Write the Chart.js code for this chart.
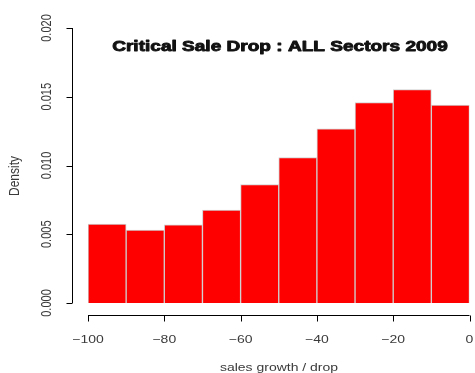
<!DOCTYPE html>
<html>
<head>
<meta charset="utf-8">
<script src="https://cdn.jsdelivr.net/npm/chart.js@4/dist/chart.umd.min.js"></script>
<style>
  html, body { margin: 0; padding: 0; background: #fff; }
  #wrap { width: 475px; height: 373px; position: relative; }
</style>
</head>
<body>
<div id="wrap"><canvas id="c" width="475" height="373"></canvas></div>
<script>
// Histogram of sales growth / drop, 10-point bins
const binEdges = [-100, -90, -80, -70, -60, -50, -40, -30, -20, -10, 0];
const densities = [0.00574, 0.00530, 0.00569, 0.00676, 0.00862, 0.01058, 0.01267, 0.01458, 0.01552, 0.01439];
const xTicks = [-100, -80, -60, -40, -20, 0];
const yTicks = [0, 0.005, 0.010, 0.015, 0.020];
const titleText = 'Critical Sale Drop : ALL Sectors 2009';
const xTitle = 'sales growth / drop';
const yTitle = 'Density';

const points = densities.map((d, i) => ({ x: (binEdges[i] + binEdges[i + 1]) / 2, y: d }));

const FONT = '"Liberation Sans", Arial, sans-serif';
const STRETCH = 1.27; // text is drawn wide and low

// horizontal text, widened
function wideText(ctx, txt, x, y, heavy) {
  ctx.save();
  ctx.translate(x, y);
  ctx.scale(STRETCH, 1);
  if (heavy) {
    ctx.lineWidth = heavy;
    ctx.lineJoin = 'round';
    ctx.strokeStyle = ctx.fillStyle;
    ctx.strokeText(txt, 0, 0);
  }
  ctx.fillText(txt, 0, 0);
  ctx.restore();
}
// vertical text reading bottom to top, thickened across its baseline
function upText(ctx, txt, x, y) {
  ctx.save();
  ctx.translate(x, y);
  ctx.rotate(-Math.PI / 2);
  ctx.scale(1, STRETCH);
  ctx.fillText(txt, 0, 0);
  ctx.restore();
}

// R-style detached axes, tick labels and titles
const rAxes = {
  id: 'rAxes',
  afterDraw(chart) {
    const ctx = chart.ctx;
    const xs = chart.scales.x, ys = chart.scales.y;
    ctx.save();
    ctx.strokeStyle = '#000';
    ctx.lineWidth = 1;

    // y axis
    const axX = 72.5;
    ctx.beginPath();
    ctx.moveTo(axX, ys.getPixelForValue(yTicks[0]));
    ctx.lineTo(axX, ys.getPixelForValue(yTicks[yTicks.length - 1]));
    yTicks.forEach(v => {
      const p = Math.round(ys.getPixelForValue(v)) + 0.5;
      ctx.moveTo(axX, p);
      ctx.lineTo(axX - 6, p);
    });
    ctx.stroke();

    // x axis
    const axY = 315.5;
    ctx.beginPath();
    ctx.moveTo(xs.getPixelForValue(xTicks[0]), axY);
    ctx.lineTo(xs.getPixelForValue(xTicks[xTicks.length - 1]), axY);
    xTicks.forEach(v => {
      const p = Math.round(xs.getPixelForValue(v)) + 0.5;
      ctx.moveTo(p, axY);
      ctx.lineTo(p, axY + 6);
    });
    ctx.stroke();

    ctx.fillStyle = '#3a3a3a';
    ctx.font = '11px ' + FONT;
    ctx.textAlign = 'center';
    ctx.textBaseline = 'middle';
    xTicks.forEach(v => {
      const lbl = v < 0 ? '\u2212' + Math.abs(v) : String(v);
      wideText(ctx, lbl, xs.getPixelForValue(v), 340);
    });

    yTicks.forEach(v => upText(ctx, v.toFixed(3), 47, ys.getPixelForValue(v)));

    wideText(ctx, xTitle, 279, 368);
    ctx.font = '12px ' + FONT;
    upText(ctx, yTitle, 15, 176);

    ctx.fillStyle = '#111';
    ctx.font = 'bold 15px ' + FONT;
    wideText(ctx, titleText, 280, 47, 0.9);
    ctx.restore();
  }
};

new Chart(document.getElementById('c'), {
  type: 'bar',
  data: {
    datasets: [{
      data: points,
      backgroundColor: '#ff0000',
      borderColor: '#cfcfcf',
      borderWidth: 1,
      barPercentage: 1,
      categoryPercentage: 1,
      grouped: false
    }]
  },
  options: {
    responsive: false,
    animation: false,
    layout: { padding: { left: 88, right: 5.5, top: 28, bottom: 70 } },
    plugins: { legend: { display: false }, tooltip: { enabled: false } },
    scales: {
      x: { type: 'linear', min: -100, max: 0, offset: false, display: false },
      y: { type: 'linear', min: 0, max: 0.020, display: false }
    }
  },
  plugins: [rAxes]
});
</script>
</body>
</html>
